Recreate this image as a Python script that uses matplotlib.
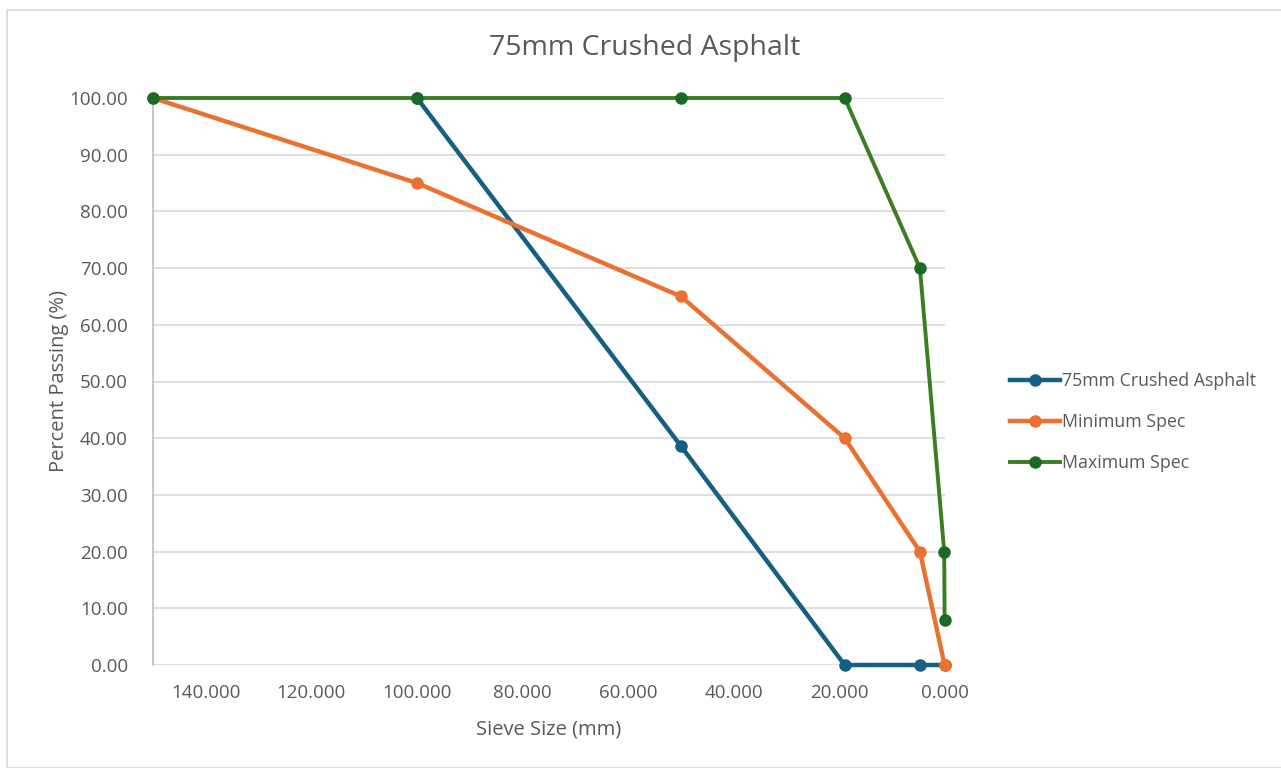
import matplotlib
matplotlib.use('Agg')
import matplotlib.pyplot as plt
import matplotlib.patches as patches
from matplotlib.ticker import FormatStrFormatter, MultipleLocator

# sieve sizes (mm) and percent passing
asphalt_x = [100, 50, 19, 4.75, 0.075]
asphalt_y = [100, 38.6, 0, 0, 0]
min_x = [150, 100, 50, 19, 4.75, 0.075]
min_y = [100, 85, 65, 40, 20, 0]
max_x = [150, 100, 50, 19, 4.75, 0.15, 0.075]
max_y = [100, 100, 100, 100, 70, 20, 8]

TEXT = '#595959'
plt.rcParams['font.family'] = ['Open Sans', 'DejaVu Sans']

fig = plt.figure(figsize=(12.81, 7.68), dpi=100)
# chart area border
fig.add_artist(patches.Rectangle((7 / 1281, 0.0), 1.0, 1 - 10 / 768,
                                 transform=fig.transFigure, fill=False,
                                 edgecolor='#d9d9d9', linewidth=1.2))

ax = fig.add_axes([153 / 1281, 1 - 665 / 768, 792 / 1281, 567 / 768])

ax.plot(asphalt_x, asphalt_y, color='#156082', lw=3.2, marker='o', ms=8,
        label='75mm Crushed Asphalt', zorder=3, clip_on=False)
ax.plot(min_x, min_y, color='#E97132', lw=3.2, marker='o', ms=8,
        label='Minimum Spec', zorder=3, clip_on=False)
ax.plot(max_x, max_y, color='#3B7D23', lw=2.8, marker='o', ms=8,
        mfc='#196B24', mec='#196B24', label='Maximum Spec', zorder=4,
        clip_on=False)

ax.set_xlim(150, 0)
ax.set_ylim(0, 100)
ax.set_xticks([140, 120, 100, 80, 60, 40, 20, 0])
ax.yaxis.set_major_locator(MultipleLocator(10))
ax.xaxis.set_major_formatter(FormatStrFormatter('%.3f'))
ax.yaxis.set_major_formatter(FormatStrFormatter('%.2f'))
ax.grid(axis='y', color='#d9d9d9', linewidth=1.2)
ax.set_axisbelow(True)
for s in ['top', 'right', 'bottom']:
    ax.spines[s].set_visible(False)
ax.spines['left'].set_color('#bfbfbf')
ax.spines['left'].set_linewidth(1.2)
ax.tick_params(length=0, labelsize=13.5, colors=TEXT)
ax.tick_params(axis='y', pad=18)
ax.tick_params(axis='x', pad=14)

ax.set_xlabel('Sieve Size (mm)', fontsize=14.5, color=TEXT, labelpad=12)
ax.set_ylabel('Percent Passing (%)', fontsize=14.5, color=TEXT, labelpad=0)
fig.text(645 / 1281, 1 - 48 / 768, '75mm Crushed Asphalt', ha='center',
         va='center', fontsize=20.5, color=TEXT)

fig.legend(loc='center left', bbox_to_anchor=(994 / 1281, 1 - 422 / 768),
           frameon=False, fontsize=12.8, labelcolor=TEXT, handlelength=2.8,
           handletextpad=0.15, labelspacing=1.28)

fig.savefig('out.png', dpi=100)
